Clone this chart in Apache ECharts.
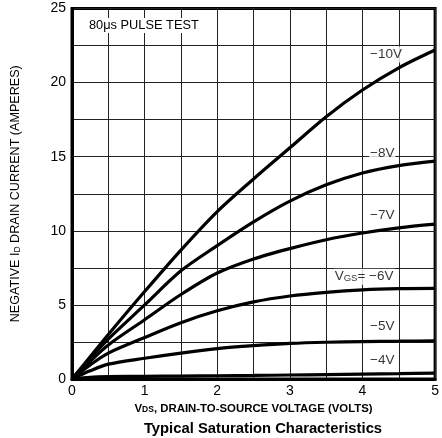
<!DOCTYPE html>
<html>
<head>
<meta charset="utf-8">
<script src="https://cdn.jsdelivr.net/npm/echarts@6/dist/echarts.min.js"></script>
<style>
html,body{margin:0;padding:0;background:#fff;}
#c{width:442px;height:438px;}
</style>
</head>
<body>
<div id="c"></div>
<script>
// Drain-to-source voltage samples (V)
const vds = [0, 0.25, 0.5, 1, 1.5, 2, 2.5, 3, 3.5, 4, 4.5, 5];
// Negative drain current (A) for each gate voltage
const id_m10 = [0, 1.5, 3.0, 5.9, 8.7, 11.3, 13.5, 15.6, 17.7, 19.5, 21.0, 22.2];
const id_m8  = [0, 1.4, 2.7, 5.0, 7.3, 9.0, 10.6, 12.0, 13.1, 13.9, 14.4, 14.7];
const id_m7  = [0, 1.2, 2.3, 4.0, 5.7, 7.15, 8.1, 8.8, 9.4, 9.85, 10.2, 10.45];
const id_m6  = [0, 0.95, 1.75, 2.8, 3.8, 4.6, 5.2, 5.6, 5.85, 6.02, 6.1, 6.12];
const id_m5  = [0, 0.55, 1.0, 1.4, 1.75, 2.05, 2.25, 2.4, 2.48, 2.52, 2.55, 2.58];
const id_m4  = [0, 0.12, 0.16, 0.18, 0.2, 0.22, 0.24, 0.27, 0.3, 0.33, 0.36, 0.4];
const curves = [id_m10, id_m8, id_m7, id_m6, id_m5, id_m4];
// Curve labels and where they sit (data coords)
const curveLabels = ['−10V', '−8V', '−7V', 'V{s|GS}= −6V', '−5V', '−4V'];
const labelX = [4.09, 4.09, 4.09, 4.44, 4.09, 4.09];
const labelY = [21.9, 15.25, 11.07, 6.9, 3.53, 1.28];
// Axis tick labels
const xTicks = [0, 1, 2, 3, 4, 5];
const yTicks = [0, 5, 10, 15, 20, 25];

const FONT = 'Liberation Sans, Arial, Helvetica, sans-serif';
const chart = echarts.init(document.getElementById('c'), null, {renderer: 'canvas'});

const lineSeries = curves.map(arr => ({
  type: 'line',
  data: vds.map((x, i) => [x, arr[i]]),
  smooth: 0.3,
  symbol: 'none',
  silent: true,
  lineStyle: {color: '#000', width: 3.2},
  z: 3
}));

const labelSeries = {
  type: 'scatter',
  symbolSize: 0,
  silent: true,
  z: 4,
  data: curveLabels.map((t, i) => ({
    value: [labelX[i], labelY[i]],
    label: {
      show: true,
      formatter: t,
      position: i === 3 ? 'left' : 'right',
      distance: 0,
      color: '#000',
      fontFamily: FONT,
      fontSize: 13.5,
      backgroundColor: '#fff',
      padding: [1, 1, 1, 1],
      rich: {
        s: {fontSize: 9.5, fontFamily: FONT, color: '#000', verticalAlign: 'bottom', lineHeight: 9}
      }
    }
  }))
};

chart.setOption({
  backgroundColor: '#fff',
  animation: false,
  title: {
    text: 'Typical Saturation Characteristics',
    left: 258,
    textAlign: 'center',
    top: 416,
    textStyle: {fontFamily: FONT, fontSize: 14.8, fontWeight: 'bold', color: '#000'}
  },
  grid: {
    left: 72, right: 3, top: 8.5, bottom: 59,
    show: true, borderColor: '#000', borderWidth: 3
  },
  xAxis: {
    type: 'value', min: 0, max: 5, interval: 0.5,
    name: 'V{s|DS}, DRAIN-TO-SOURCE VOLTAGE (VOLTS)',
    nameLocation: 'middle', nameGap: 24,
    nameTextStyle: {
      fontFamily: FONT, fontSize: 11.4, fontWeight: 'bold', color: '#000',
      rich: {s: {fontFamily: FONT, fontSize: 8.5, fontWeight: 'bold', color: '#000', verticalAlign: 'bottom', lineHeight: 10}}
    },
    axisLine: {show: true, lineStyle: {color: '#000', width: 3}},
    axisTick: {show: false},
    axisLabel: {
      fontFamily: FONT, fontSize: 14, color: '#000', margin: 5,
      formatter: v => (xTicks.indexOf(v) >= 0 ? String(v) : '')
    },
    splitLine: {show: true, lineStyle: {color: '#222', width: 1}}
  },
  yAxis: {
    type: 'value', min: 0, max: 25, interval: 2.5,
    name: 'NEGATIVE I{s|D} DRAIN CURRENT (AMPERES)',
    nameLocation: 'middle', nameRotate: 90, nameGap: 50,
    nameTextStyle: {
      fontFamily: FONT, fontSize: 12.6, color: '#000',
      rich: {s: {fontFamily: FONT, fontSize: 8.5, color: '#000', verticalAlign: 'bottom', lineHeight: 9}}
    },
    axisLine: {show: true, lineStyle: {color: '#000', width: 3}},
    axisTick: {show: false},
    axisLabel: {
      fontFamily: FONT, fontSize: 14, color: '#000', margin: 6,
      formatter: v => (yTicks.indexOf(v) >= 0 ? String(v) : '')
    },
    splitLine: {show: true, lineStyle: {color: '#222', width: 1}}
  },
  graphic: [{
    type: 'text',
    left: 87, top: 18,
    z: 10,
    style: {text: '80μs PULSE TEST', font: '12.8px ' + FONT, fill: '#000', backgroundColor: '#fff', padding: [1, 2, 1, 2]}
  }],
  series: lineSeries.concat([labelSeries])
});
</script>
</body>
</html>
